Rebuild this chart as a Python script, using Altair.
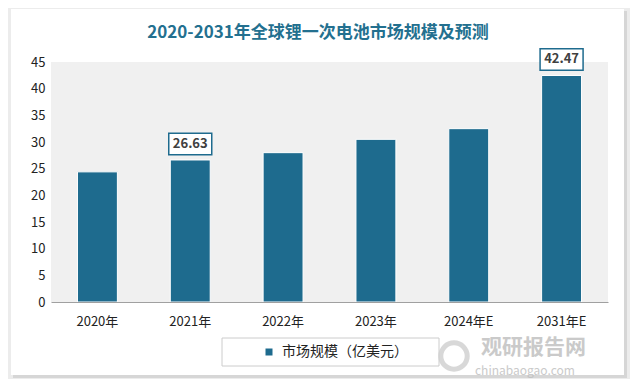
import altair as alt
import pandas as pd

years = ["2020年", "2021年", "2022年", "2023年", "2024年E", "2031年E"]
values = [24.4, 26.63, 28.0, 30.5, 32.5, 42.47]
labeled_years = ["2021年", "2031年E"]
series_name = "市场规模（亿美元）"
y_ticks = [0, 5, 10, 15, 20, 25, 30, 35, 40, 45]
title_text = "2020-2031年全球锂一次电池市场规模及预测"
wm_cn = "观研报告网"
wm_en = "chinabaogao.com"

df = pd.DataFrame({"year": years, "value": values, "series": series_name})
df["label"] = [f"{v:.2f}" for v in values]
lab = df[df["year"].isin(labeled_years)]
dummy = pd.DataFrame({"a": [0]})

FONT = "Noto Sans CJK SC"
BAR = "#1e6b8e"
W, H = 557, 240

x_enc = alt.X(
    "year:N", sort=years, title=None,
    scale=alt.Scale(paddingInner=0.57, paddingOuter=0.285),
    axis=alt.Axis(labelAngle=0, labelFontSize=13, labelColor="#222222", labelPadding=13,
                  ticks=False, domainColor="#a0a0a0", labelFont=FONT, zindex=2),
)
y_enc = alt.Y(
    "value:Q", title=None, scale=alt.Scale(domain=[0, 45]),
    axis=alt.Axis(values=y_ticks, grid=False, domain=False, ticks=False, labelFontSize=13,
                  labelPadding=6, labelColor="#222222", labelFont=FONT, zindex=2,
                  labelOverlap=False),
)

shadow = alt.Chart(dummy).mark_rect(color="#d6d6d6").encode(
    x=alt.value(-38), x2=alt.value(576), y=alt.value(-51), y2=alt.value(316))
card = alt.Chart(dummy).mark_rect(color="white").encode(
    x=alt.value(-40), x2=alt.value(573), y=alt.value(-53), y2=alt.value(313))
hatch = alt.Chart(dummy).mark_rect(color="#f0f0f0").encode(
    x=alt.value(0), x2=alt.value(W), y=alt.value(0), y2=alt.value(H))

bars = alt.Chart(df).mark_bar(stroke="white", strokeWidth=1).encode(
    x=x_enc, y=y_enc,
    color=alt.Color("series:N", scale=alt.Scale(range=[BAR]), title=None,
                    legend=alt.Legend(orient="none", legendX=211, legendY=283, padding=0,
                                      symbolType="square", symbolSize=49, symbolStrokeWidth=0,
                                      labelFontSize=14, labelFont=FONT, labelColor="#222222",
                                      labelOffset=6, zindex=3)),
)

boxes = alt.Chart(lab).mark_point(
    shape="M-1,-0.5H1V0.5H-1Z", size=1849, filled=True, fill="white",
    stroke=BAR, strokeWidth=1.5, opacity=1, yOffset=-16,
).encode(x=x_enc, y=y_enc)

texts = alt.Chart(lab).mark_text(
    font=FONT, fontSize=13, fontWeight="bold", color="#404040", baseline="middle", yOffset=-16,
).encode(x=x_enc, y=y_enc, text="label:N")

title = alt.Chart(dummy).mark_text(
    text=title_text, font=FONT, fontSize=17, fontWeight="bold", color="#23708f",
    align="center", baseline="middle",
).encode(x=alt.value(267), y=alt.value(-29))

legend_box = alt.Chart(dummy).mark_rect(fill="white", stroke="#cccccc", strokeWidth=1).encode(
    x=alt.value(171), x2=alt.value(388), y=alt.value(276), y2=alt.value(304))

wm1 = alt.Chart(dummy).mark_text(
    text=wm_cn, font=FONT, fontSize=21, fontWeight="bold", color="#bdbdbd",
    align="left", baseline="middle", opacity=0.8,
).encode(x=alt.value(430), y=alt.value(286))
wm2 = alt.Chart(dummy).mark_text(
    text=wm_en, font=FONT, fontSize=12, color="#bdbdbd",
    align="left", baseline="middle", opacity=0.8,
).encode(x=alt.value(424), y=alt.value(309))
logo = alt.Chart(dummy).mark_point(
    shape="circle", size=700, filled=False, stroke="#cfcfcf", strokeWidth=5, opacity=0.8,
).encode(x=alt.value(403), y=alt.value(294))

chart = alt.layer(
    shadow, card, hatch, bars, boxes, texts, title, legend_box, logo, wm1, wm2
).properties(
    width=W, height=H,
    autosize=alt.AutoSizeParams(type="none"),
    padding={"left": 43, "top": 54, "right": 22, "bottom": 77},
    background="#ececec",
).configure_view(stroke=None)

chart.save("out.html", embed_options={"renderer": "svg", "actions": False})
